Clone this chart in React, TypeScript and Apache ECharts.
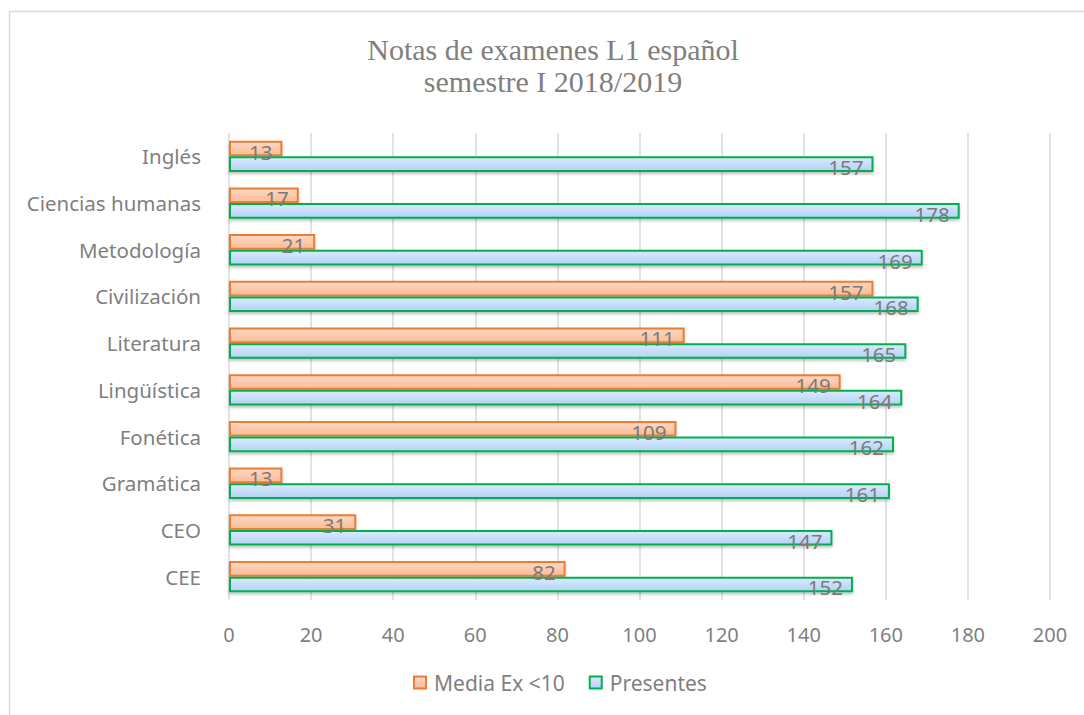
import React, { useEffect, useRef } from "react";
import * as echarts from "echarts";

const categories = [
  "CEE",
  "CEO",
  "Gramática",
  "Fonética",
  "Lingüística",
  "Literatura",
  "Civilización",
  "Metodología",
  "Ciencias humanas",
  "Inglés",
];
const mediaEx = [82, 31, 13, 109, 149, 111, 157, 21, 17, 13];
const presentes = [152, 147, 161, 162, 164, 165, 168, 169, 178, 157];
const xTicks = [0, 20, 40, 60, 80, 100, 120, 140, 160, 180, 200];

export default function App() {
  const ref = useRef<HTMLDivElement>(null);
  useEffect(() => {
    if (!ref.current) return;
    const chart = echarts.init(ref.current, undefined, { renderer: "svg" });
    const font = "Noto Sans";
    const gray = "#7f7f7f";
    const label = {
      show: true,
      position: "insideRight" as const,
      distance: 10,
      color: "#7a7a7a",
      fontFamily: font,
      fontSize: 20.5,
      offset: [0, 3],
    };
    chart.setOption({
      animation: false,
      backgroundColor: "#ffffff",
      graphic: [
        {
          type: "rect",
          shape: { x: 9.5, y: 11.5, width: 1200, height: 800 },
          style: { fill: "none", stroke: "#d9d9d9", lineWidth: 1.5 },
          silent: true,
        },
        {
          type: "text",
          x: 553,
          y: 33,
          style: {
            text: "Notas de examenes L1 español\nsemestre I 2018/2019",
            fontFamily: "Liberation Serif",
            fontSize: 30,
            lineHeight: 32,
            fill: "#7f7f7f",
            align: "center",
            verticalAlign: "top",
          },
        },
      ],
      legend: {
        data: ["Media Ex <10", "Presentes"],
        bottom: 17,
        left: 408,
        itemWidth: 12,
        itemHeight: 12,
        itemGap: 24,
        icon: "rect",
        textStyle: {
          color: gray,
          fontFamily: font,
          fontSize: 21,
          padding: [0, 0, 0, 3],
        },
      },
      grid: { left: 229, top: 133, width: 821, height: 467, containLabel: false },
      xAxis: {
        type: "value",
        min: 0,
        max: 200,
        interval: 20,
        axisLine: { show: false },
        axisTick: { show: false },
        splitLine: { lineStyle: { color: "#d9d9d9", width: 1.5 } },
        axisLabel: {
          color: gray,
          fontFamily: font,
          fontSize: 20,
          margin: 24,
          formatter: (v: number) => (xTicks.includes(v) ? String(v) : ""),
        },
      },
      yAxis: {
        type: "category",
        data: categories,
        axisLine: { show: false },
        axisTick: { show: false },
        axisLabel: {
          color: gray,
          fontFamily: font,
          fontSize: 20.5,
          margin: 28,
        },
      },
      series: [
        {
          name: "Media Ex <10",
          type: "bar",
          data: mediaEx,
          barGap: "0%",
          barCategoryGap: "33%",
          itemStyle: {
            color: new echarts.graphic.LinearGradient(0, 0, 0, 1, [
              { offset: 0, color: "#fdd9c4" },
              { offset: 1, color: "#f9bb96" },
            ]),
            borderColor: "#ed7d31",
            borderWidth: 2,
            shadowColor: "rgba(0,0,0,0.25)",
            shadowBlur: 3,
            shadowOffsetY: 2,
          },
          label,
        },
        {
          name: "Presentes",
          type: "bar",
          data: presentes,
          barGap: "0%",
          barCategoryGap: "33%",
          itemStyle: {
            color: new echarts.graphic.LinearGradient(0, 0, 0, 1, [
              { offset: 0, color: "#dbeafd" },
              { offset: 1, color: "#b3d2f7" },
            ]),
            borderColor: "#00b050",
            borderWidth: 2,
            shadowColor: "rgba(0,0,0,0.25)",
            shadowBlur: 3,
            shadowOffsetY: 2,
          },
          label,
        },
      ],
    });
    return () => chart.dispose();
  }, []);
  return (
    <div
      ref={ref}
      style={{ position: "fixed", left: 0, top: 0, width: 1084, height: 715 }}
    />
  );
}
